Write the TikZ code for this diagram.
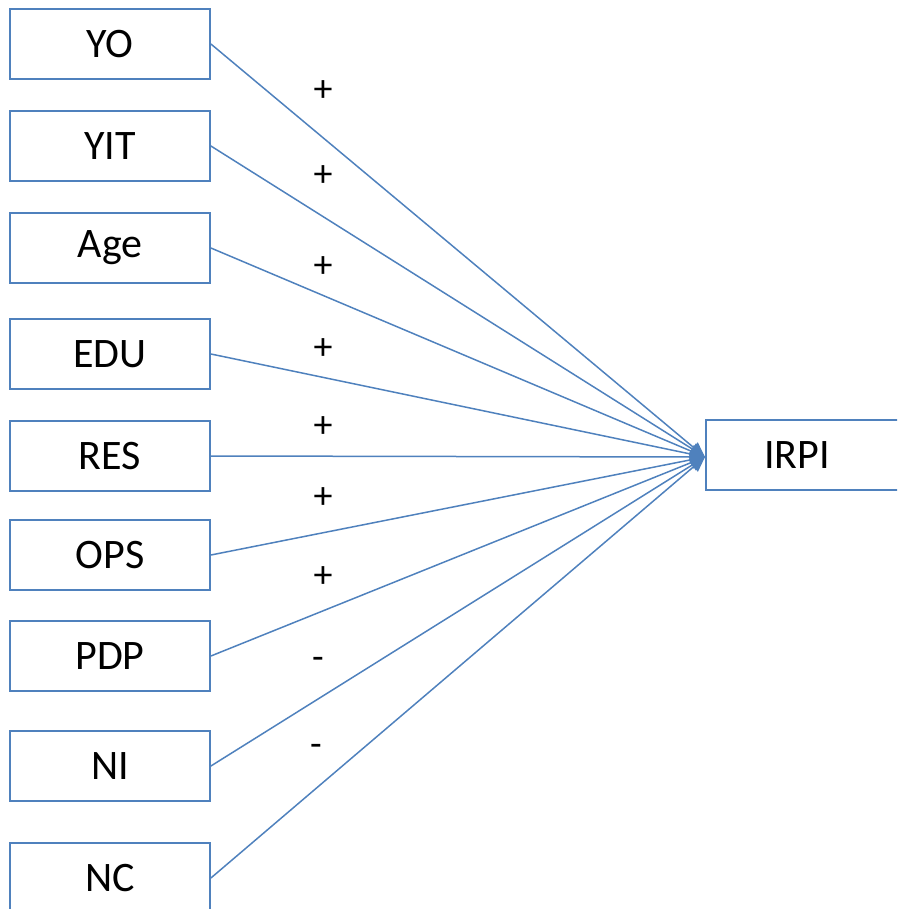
\documentclass[tikz,border=0pt]{standalone}
\usepackage{fontspec}
\setmainfont{Carlito}
\usetikzlibrary{arrows.meta}
\definecolor{oblue}{HTML}{4F81BD}
\begin{document}
\begin{tikzpicture}[x=1pt,y=-1pt,
  box/.style={draw=oblue,line width=1.8pt,minimum width=200pt,minimum height=70pt,inner sep=0pt,font=\fontsize{42}{50}\selectfont},
  conn/.style={draw=oblue,line width=1.5pt,-{Triangle[length=15pt,width=13pt]}},
  sign/.style={font=\fontsize{38}{44}\selectfont,inner sep=0pt}]
\useasboundingbox (0,0) rectangle (897,909);
\clip (0,0) rectangle (897,909);
\node[box] (yo) at (110,44) {YO};
\node[box] (yit) at (110,146) {YIT};
\node[box] (age) at (110,248) {Age};
\node[box] (edu) at (110,354) {EDU};
\node[box] (res) at (110,456) {RES};
\node[box] (ops) at (110,555) {OPS};
\node[box] (pdp) at (110,656) {PDP};
\node[box] (ni) at (110,766) {NI};
\node[box] (nc) at (110,878) {NC};
\node[box,minimum width=220pt] (irpi) at (816,455) {\hspace*{-38pt}IRPI};
\coordinate (tip) at (705,457);
\foreach \n in {yo,yit,age,edu,res,ops,pdp,ni,nc}{
  \draw[conn] (\n.east) -- (tip);
}
\node[sign] (s1) at (323,91) {+};
\node[sign] (s2) at (323,176) {+};
\node[sign] (s3) at (323,267) {+};
\node[sign] (s4) at (323,349) {+};
\node[sign] (s5) at (323,427) {+};
\node[sign] (s6) at (323,498) {+};
\node[sign] (s7) at (323,577) {+};
\node[sign] (s8) at (318,663) {-};
\node[sign] (s9) at (316,750) {-};
\end{tikzpicture}
\end{document}
